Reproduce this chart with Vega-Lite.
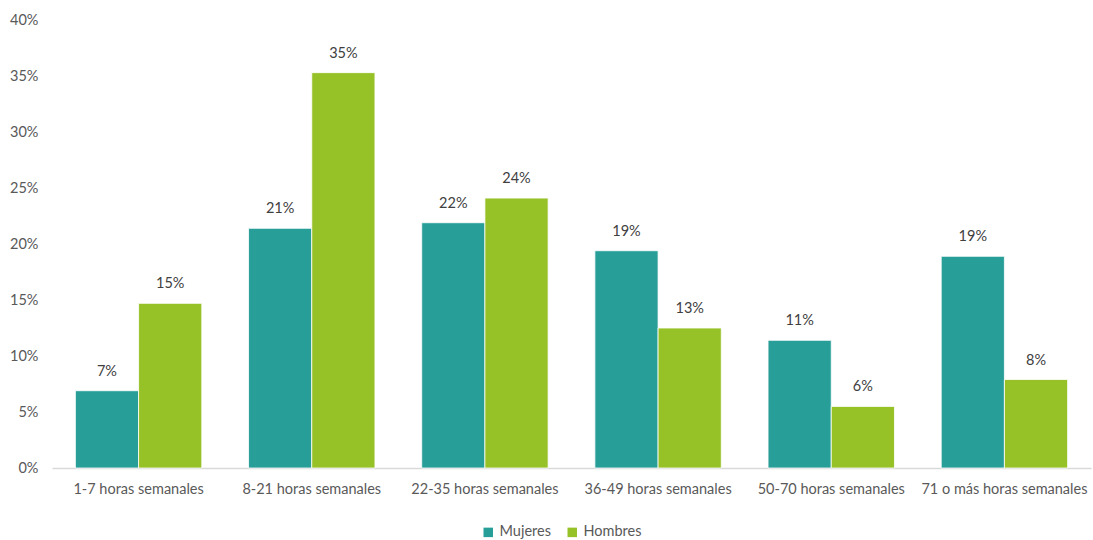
{
  "$schema": "https://vega.github.io/schema/vega-lite/v6.json",
  "autosize": "none",
  "width": 1039,
  "height": 448,
  "padding": {"left": 52, "top": 20, "right": 2, "bottom": 72},
  "background": "white",
  "config": {
    "view": {"stroke": null},
    "font": "Lato",
    "axis": {"labelFont": "Lato", "labelColor": "#595959", "labelFontSize": 14.5},
    "legend": {"labelFont": "Lato", "labelColor": "#595959", "labelFontSize": 14.5}
  },
  "data": {
    "values": [
      {"cat": "1-7 horas semanales", "sexo": "Mujeres", "v": 0.069},
      {"cat": "1-7 horas semanales", "sexo": "Hombres", "v": 0.147},
      {"cat": "8-21 horas semanales", "sexo": "Mujeres", "v": 0.214},
      {"cat": "8-21 horas semanales", "sexo": "Hombres", "v": 0.353},
      {"cat": "22-35 horas semanales", "sexo": "Mujeres", "v": 0.219},
      {"cat": "22-35 horas semanales", "sexo": "Hombres", "v": 0.241},
      {"cat": "36-49 horas semanales", "sexo": "Mujeres", "v": 0.194},
      {"cat": "36-49 horas semanales", "sexo": "Hombres", "v": 0.125},
      {"cat": "50-70 horas semanales", "sexo": "Mujeres", "v": 0.114},
      {"cat": "50-70 horas semanales", "sexo": "Hombres", "v": 0.055},
      {"cat": "71 o más horas semanales", "sexo": "Mujeres", "v": 0.189},
      {"cat": "71 o más horas semanales", "sexo": "Hombres", "v": 0.079}
    ]
  },
  "encoding": {
    "x": {
      "field": "cat", "type": "nominal", "sort": null, "title": null,
      "scale": {"paddingInner": 0.27, "paddingOuter": 0.135},
      "axis": {"labelAngle": 0, "ticks": false, "domainColor": "#D9D9D9", "domainWidth": 1.5, "labelPadding": 14}
    },
    "xOffset": {"field": "sexo", "type": "nominal", "sort": ["Mujeres", "Hombres"]},
    "y": {
      "field": "v", "type": "quantitative", "title": null,
      "scale": {"domain": [0, 0.4]},
      "axis": {"format": ".0%", "values": [0, 0.05, 0.1, 0.15, 0.2, 0.25, 0.3, 0.35, 0.4], "grid": false, "domain": false, "ticks": false, "labelPadding": 14}
    }
  },
  "layer": [
    {
      "mark": {"type": "bar", "stroke": "white", "strokeWidth": 0.8},
      "encoding": {
        "color": {
          "field": "sexo", "type": "nominal", "sort": ["Mujeres", "Hombres"],
          "scale": {"domain": ["Mujeres", "Hombres"], "range": ["#289E98", "#96C127"]},
          "legend": {"title": null, "orient": "none", "legendX": 429, "legendY": 505, "direction": "horizontal", "symbolType": "square", "symbolSize": 90, "symbolStrokeWidth": 0, "columnPadding": 14, "labelOffset": 4}
        }
      }
    },
    {
      "mark": {"type": "text", "baseline": "bottom", "dy": -12, "fontSize": 14.5, "color": "#404040"},
      "encoding": {"text": {"field": "v", "type": "quantitative", "format": ".0%"}}
    }
  ]
}
